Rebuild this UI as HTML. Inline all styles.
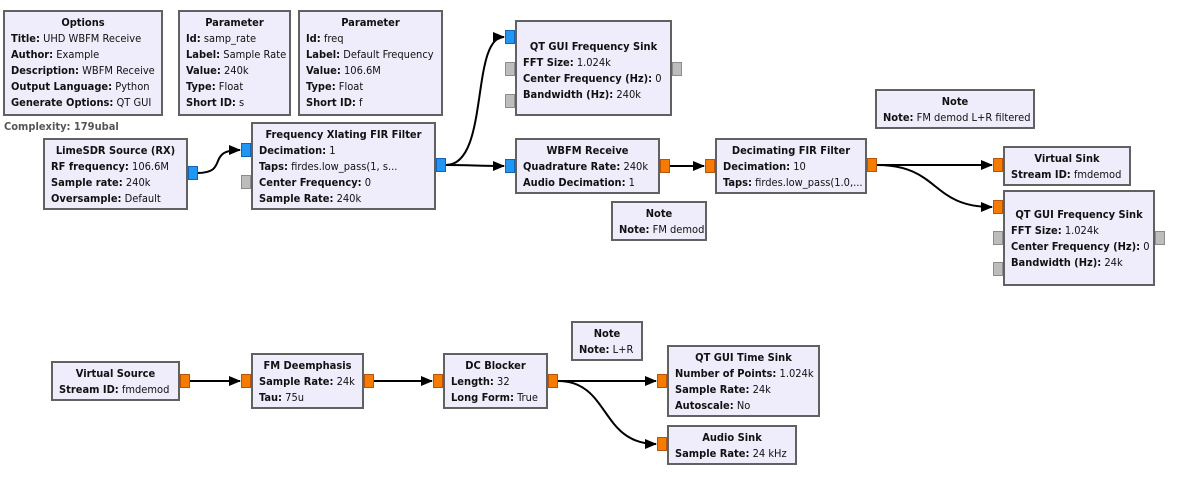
<!DOCTYPE html><html><head><style>
body{margin:0;width:1193px;height:487px;background:#fff;position:relative;overflow:hidden;font-family:"DejaVu Sans Condensed","DejaVu Sans","Liberation Sans",sans-serif;font-stretch:condensed}
.b{position:absolute;box-sizing:border-box;border:2px solid #616161;background:#efecfb;font-size:11px;line-height:16px;padding:3px 6px;white-space:nowrap;color:#111}
.b .t{text-align:center;font-weight:bold}
.b b{font-weight:bold}
.p{position:absolute;box-sizing:border-box;width:10px;height:14px;border:1px solid}
.o{background:#f57c00;border-color:#b5540c}
.u{background:#2196f3;border-color:#1464b4}
.g{background:#bdbdbd;border-color:#8c8c8c}
svg{position:absolute;left:0;top:0}
</style></head><body>
<svg width="1193" height="487"><defs><marker id="a" markerWidth="12" markerHeight="10" refX="11" refY="5" orient="auto" markerUnits="userSpaceOnUse"><path d="M0,0L12,5L0,10z" fill="#000"/></marker></defs>
<g stroke="#000" stroke-width="2" fill="none" marker-end="url(#a)">
<path d="M197,173 C230,173 205,150 240,150"/>
<path d="M446,165 C490,165 470,37 504,37"/>
<path d="M446,165 C470,165 480,166 504,166"/>
<path d="M670,166 L704,166"/>
<path d="M877,165 L992,165"/>
<path d="M877,165 C940,165 930,207 992,207"/>
<path d="M190,381 L240,381"/>
<path d="M374,381 L432,381"/>
<path d="M558,381 L656,381"/>
<path d="M558,381 C610,381 600,444 656,444"/>
</g></svg>
<div class="b" style="left:3px;top:10px;width:160px;height:106px"><div class="t">Options</div><b>Title:</b> UHD WBFM Receive<br><b>Author:</b> Example<br><b>Description:</b> WBFM Receive<br><b>Output Language:</b> Python<br><b>Generate Options:</b> QT GUI</div>
<div class="b" style="left:178px;top:10px;width:113px;height:106px"><div class="t">Parameter</div><b>Id:</b> samp_rate<br><b>Label:</b> Sample Rate<br><b>Value:</b> 240k<br><b>Type:</b> Float<br><b>Short ID:</b> s</div>
<div class="b" style="left:298px;top:10px;width:145px;height:106px"><div class="t">Parameter</div><b>Id:</b> freq<br><b>Label:</b> Default Frequency<br><b>Value:</b> 106.6M<br><b>Type:</b> Float<br><b>Short ID:</b> f</div>
<div style="position:absolute;left:4px;top:120px;font-size:11px;font-weight:bold;color:#555">Complexity: 179ubal</div>
<div class="b" style="left:43px;top:138px;width:145px;height:72px"><div class="t">LimeSDR Source (RX)</div><b>RF frequency:</b> 106.6M<br><b>Sample rate:</b> 240k<br><b>Oversample:</b> Default</div>
<div class="p u" style="left:188px;top:166px"></div>
<div class="b" style="left:251px;top:122px;width:185px;height:88px"><div class="t">Frequency Xlating FIR Filter</div><b>Decimation:</b> 1<br><b>Taps:</b> firdes.low_pass(1, s...<br><b>Center Frequency:</b> 0<br><b>Sample Rate:</b> 240k</div>
<div class="p u" style="left:241px;top:143px"></div><div class="p g" style="left:241px;top:175px"></div><div class="p u" style="left:436px;top:158px"></div>
<div class="b" style="left:515px;top:20px;width:157px;height:96px;padding-top:17px"><div class="t">QT GUI Frequency Sink</div><b>FFT Size:</b> 1.024k<br><b>Center Frequency (Hz):</b> 0<br><b>Bandwidth (Hz):</b> 240k</div>
<div class="p u" style="left:505px;top:30px"></div><div class="p g" style="left:505px;top:62px"></div><div class="p g" style="left:505px;top:94px"></div><div class="p g" style="left:672px;top:62px"></div>
<div class="b" style="left:515px;top:138px;width:145px;height:56px"><div class="t">WBFM Receive</div><b>Quadrature Rate:</b> 240k<br><b>Audio Decimation:</b> 1</div>
<div class="p u" style="left:505px;top:159px"></div><div class="p o" style="left:660px;top:159px"></div>
<div class="b" style="left:715px;top:138px;width:152px;height:56px"><div class="t">Decimating FIR Filter</div><b>Decimation:</b> 10<br><b>Taps:</b> firdes.low_pass(1.0,...</div>
<div class="p o" style="left:705px;top:159px"></div><div class="p o" style="left:867px;top:158px"></div>
<div class="b" style="left:611px;top:201px;width:96px;height:40px"><div class="t">Note</div><b>Note:</b> FM demod</div>
<div class="b" style="left:875px;top:89px;width:160px;height:40px"><div class="t">Note</div><b>Note:</b> FM demod L+R filtered</div>
<div class="b" style="left:1003px;top:146px;width:128px;height:40px"><div class="t">Virtual Sink</div><b>Stream ID:</b> fmdemod</div>
<div class="p o" style="left:993px;top:158px"></div>
<div class="b" style="left:1003px;top:190px;width:152px;height:96px;padding-top:15px"><div class="t">QT GUI Frequency Sink</div><b>FFT Size:</b> 1.024k<br><b>Center Frequency (Hz):</b> 0<br><b>Bandwidth (Hz):</b> 24k</div>
<div class="p o" style="left:993px;top:200px"></div><div class="p g" style="left:993px;top:231px"></div><div class="p g" style="left:993px;top:262px"></div><div class="p g" style="left:1155px;top:231px"></div>
<div class="b" style="left:51px;top:361px;width:129px;height:40px"><div class="t">Virtual Source</div><b>Stream ID:</b> fmdemod</div>
<div class="p o" style="left:180px;top:374px"></div>
<div class="b" style="left:251px;top:353px;width:113px;height:56px"><div class="t">FM Deemphasis</div><b>Sample Rate:</b> 24k<br><b>Tau:</b> 75u</div>
<div class="p o" style="left:241px;top:374px"></div><div class="p o" style="left:364px;top:374px"></div>
<div class="b" style="left:443px;top:353px;width:105px;height:56px"><div class="t">DC Blocker</div><b>Length:</b> 32<br><b>Long Form:</b> True</div>
<div class="p o" style="left:433px;top:374px"></div><div class="p o" style="left:548px;top:374px"></div>
<div class="b" style="left:571px;top:321px;width:72px;height:40px"><div class="t">Note</div><b>Note:</b> L+R</div>
<div class="b" style="left:667px;top:345px;width:153px;height:72px"><div class="t">QT GUI Time Sink</div><b>Number of Points:</b> 1.024k<br><b>Sample Rate:</b> 24k<br><b>Autoscale:</b> No</div>
<div class="p o" style="left:657px;top:374px"></div>
<div class="b" style="left:667px;top:425px;width:130px;height:40px"><div class="t">Audio Sink</div><b>Sample Rate:</b> 24 kHz</div>
<div class="p o" style="left:657px;top:437px"></div>
</body></html>
